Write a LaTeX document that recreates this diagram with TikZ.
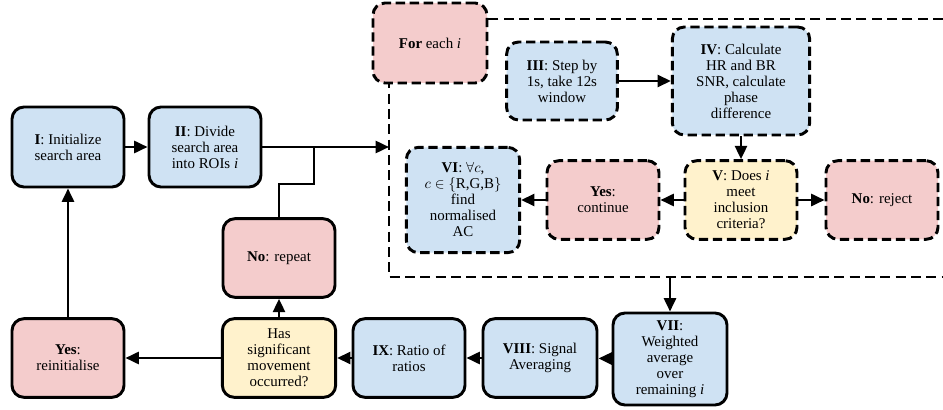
\documentclass[tikz,border=0pt]{standalone}
\usepackage{fontspec}
\setmainfont{Liberation Serif}
\usetikzlibrary{arrows.meta}
\definecolor{cblue}{HTML}{CFE2F3}
\definecolor{cpink}{HTML}{F4CCCC}
\definecolor{cyell}{HTML}{FFF2CC}
\tikzset{
  box/.style={draw=black, line width=2.2pt, rounded corners=9pt, align=center,
    font=\fontsize{11.2}{12}\selectfont, inner sep=1pt},
  sz/.style 2 args={minimum width=#1, minimum height=#2},
  dashbox/.style={box, dash pattern=on 7pt off 3.5pt},
  bluebox/.style={fill=cblue},
  pinkbox/.style={fill=cpink},
  yellbox/.style={fill=cyell},
  conn/.style={line width=1.9pt, -{Triangle[length=10pt,width=9pt]}},
  plainline/.style={line width=1.9pt},
  loopframe/.style={line width=2.2pt, dash pattern=on 7.5pt off 4pt},
}
\begin{document}
\begin{tikzpicture}[x=0.75pt, y=-0.75pt]
\useasboundingbox (0,0) rectangle (943,410);

% loop frame
\coordinate (fa) at (943,19);
\coordinate (fb) at (389,19);
\coordinate (fc) at (389,277);
\coordinate (fd) at (943,277);
\draw[loopframe] (fa) -- (fb) -- (fc) -- (fd);

% nodes
\node[box, bluebox, sz={84pt}{60pt}] (I) at (68,147) {\textbf{I}: Initialize\\search area};
\node[box, bluebox, sz={84pt}{60pt}] (II) at (205,147) {\textbf{II}: Divide\\search area\\into ROIs \textit{i}};
\node[dashbox, pinkbox, sz={85.5pt}{60pt}] (for) at (430,43) {\textbf{For} each \textit{i}};
\node[dashbox, bluebox, sz={83pt}{58.5pt}] (III) at (562,81) {\textbf{III}: Step by\\1s, take 12s\\window};
\node[dashbox, bluebox, sz={103pt}{81pt}] (IV) at (741,81) {\textbf{IV}: Calculate\\HR and BR\\SNR, calculate\\phase\\difference};
\node[dashbox, yellbox, sz={84pt}{59pt}] (V) at (741,200) {\textbf{V}: Does \textit{i}\\meet\\inclusion\\criteria?};
\node[dashbox, pinkbox, sz={84pt}{59pt}] (noreject) at (882,200) {\textbf{No}: reject};
\node[dashbox, pinkbox, sz={84pt}{59pt}] (yescont) at (603,200) {\textbf{Yes}:\\continue};
\node[dashbox, bluebox, sz={85pt}{79pt}] (VI) at (463,200) {\textbf{VI}: $\forall c$,\\$c\in\{$R,G,B$\}$\\find\\normalised\\AC};
\node[box, pinkbox, sz={84pt}{59pt}] (norep) at (279,258) {\textbf{No}: repeat};
\node[box, yellbox, sz={85pt}{59pt}] (has) at (279,358) {Has\\significant\\movement\\occurred?};
\node[box, pinkbox, sz={84pt}{59pt}] (yesre) at (68,358) {\textbf{Yes}:\\reinitialise};
\node[box, bluebox, sz={84pt}{59pt}] (IX) at (409,358) {\textbf{IX}: Ratio of\\ratios};
\node[box, bluebox, sz={85.5pt}{59pt}] (VIII) at (540,358) {\textbf{VIII}: Signal\\Averaging};
\node[box, bluebox, sz={85.5pt}{69pt}] (VII) at (670,359) {\textbf{VII}:\\Weighted\\average\\over\\remaining \textit{i}};

% connector coordinates
\coordinate (rin) at (389,147);
\coordinate (jn) at (314,147);
\coordinate (jb) at (314,184);
\coordinate (rout) at (670,277);

% connectors
\draw[conn] (I) -- (II);
\draw[conn] (II.east) -- (rin);
\draw[plainline] (norep.north) |- (jb) -- (jn);
\draw[conn] (III) -- (IV);
\draw[conn] (IV) -- (V);
\draw[conn] (V) -- (yescont);
\draw[conn] (V) -- (noreject);
\draw[conn] (yescont) -- (VI);
\draw[conn] (rout) -- (VII);
\draw[conn] (VII) -- (VIII);
\draw[conn] (VIII) -- (IX);
\draw[conn] (IX) -- (has);
\draw[conn] (has) -- (yesre);
\draw[conn] (has) -- (norep);
\draw[conn] (yesre) -- (I);
\end{tikzpicture}
\end{document}
